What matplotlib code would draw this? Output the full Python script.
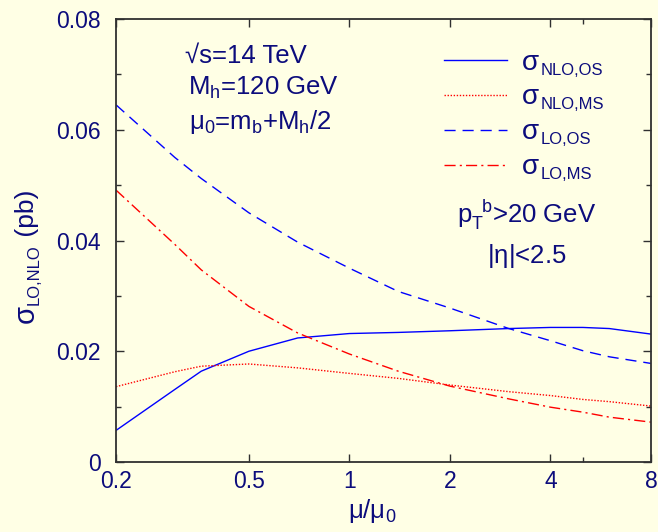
import matplotlib
matplotlib.use("Agg")
import matplotlib.pyplot as plt
from matplotlib.ticker import FixedLocator, NullFormatter

# scale variation mu/mu0
mu = [0.2, 0.3, 0.36, 0.5, 0.7, 1.0, 1.4, 2.0, 3.0, 4.0, 5.0, 6.0, 8.0]

# cross sections (pb)
nlo_os = [0.0057, 0.0131, 0.0164, 0.0200, 0.0224, 0.0232, 0.0234, 0.0237, 0.0241, 0.0243, 0.0243, 0.0241, 0.0231]
nlo_ms = [0.0136, 0.0163, 0.0173, 0.0177, 0.0170, 0.0160, 0.0151, 0.0139, 0.0127, 0.0120, 0.0113, 0.0109, 0.0101]
lo_os = [0.0645, 0.0550, 0.0512, 0.0450, 0.0397, 0.0350, 0.0308, 0.0278, 0.0241, 0.0219, 0.0201, 0.0190, 0.0178]
lo_ms = [0.0491, 0.0393, 0.0347, 0.0281, 0.0233, 0.0195, 0.0164, 0.0137, 0.0114, 0.0099, 0.0090, 0.0081, 0.0072]

series_sub = ["NLO,OS", "NLO,MS", "LO,OS", "LO,MS"]

xticks = [0.2, 0.5, 1, 2, 4, 8]
xticklabels = ["0.2", "0.5", "1", "2", "4", "8"]
yticks = [0, 0.02, 0.04, 0.06, 0.08]
yticklabels = ["0", "0.02", "0.04", "0.06", "0.08"]

bg = "#ffffe5"
navy = "#0c0c7c"
W, H = 658, 532

plt.rcParams["font.family"] = ["Liberation Sans", "DejaVu Sans"]
plt.rcParams["mathtext.default"] = "regular"

fig = plt.figure(figsize=(W / 100, H / 100), dpi=100, facecolor=bg)
ax = fig.add_axes([116 / W, 1 - 462 / H, 535 / W, 443 / H], facecolor=bg)
renderer = fig.canvas.get_renderer()


def px(x, y):
    # pixel position measured from the top left corner -> figure fraction
    return x / W, 1 - y / H


def chain(x, y, parts, rotation=0):
    # write text pieces of different sizes one after another along the baseline
    pos = 0
    for s, size, drop in parts:
        if rotation == 0:
            t = fig.text(*px(x + pos, y + drop), s, fontsize=size, color=navy,
                         ha="left", va="baseline")
            pos += t.get_window_extent(renderer).width
        else:
            t = fig.text(*px(x + drop, y - pos), s, fontsize=size, color=navy,
                         ha="left", va="baseline", rotation=90, rotation_mode="anchor")
            pos += t.get_window_extent(renderer).height


ax.plot(mu, nlo_os, color="#0000ff", lw=1.0, label="\u03c3")
ax.plot(mu, nlo_ms, color="#ff0000", lw=1.0, dashes=(1, 1.2), label="\u03c3")
ax.plot(mu, lo_os, color="#0000ff", lw=1.0, dashes=(8, 5), label="\u03c3")
ax.plot(mu, lo_ms, color="#ff0000", lw=1.0, dashes=(8, 3, 1.5, 3), label="\u03c3")

ax.set_xscale("log")
ax.set_xlim(0.2, 8)
ax.set_ylim(0, 0.08)

ax.xaxis.set_major_locator(FixedLocator(xticks))
ax.set_xticklabels(xticklabels)
ax.xaxis.set_minor_locator(FixedLocator([5]))
ax.xaxis.set_minor_formatter(NullFormatter())
ax.set_yticks(yticks)
ax.set_yticklabels(yticklabels)
ax.yaxis.set_minor_locator(FixedLocator([0.01, 0.03, 0.05, 0.07]))

ax.tick_params(which="both", direction="in", top=True, right=True, colors="#303030",
               labelcolor=navy, labelsize=16.5)
ax.tick_params(which="major", length=6, width=1)
ax.tick_params(which="minor", length=3.5, width=1)
ax.tick_params(axis="y", pad=11)
ax.tick_params(axis="x", pad=6)
for s in ax.spines.values():
    s.set_color("#303030")
    s.set_linewidth(1.3)

# legend: handles plus a big sigma, subscripts appended afterwards
leg = ax.legend(loc="upper left", bbox_to_anchor=(0.613, 0.931), frameon=False,
                fontsize=20, handlelength=2.27, handletextpad=0.54, labelspacing=0.32,
                borderpad=0, borderaxespad=0)
for t in leg.get_texts():
    t.set_color(navy)
fig.canvas.draw()
for t, sub in zip(leg.get_texts(), series_sub):
    bb = t.get_window_extent(renderer)
    fig.text((bb.x1 + 1) / W, (bb.y0 + 1) / H, sub, fontsize=12, color=navy,
             ha="left", va="baseline")

# axis titles
chain(34, 323, [("\u03c3", 21, 0), ("LO,NLO", 12, 5), (" (pb)", 19, 0)], rotation=90)
fig.text(*px(348, 518), r"$\mu/\mu_0$", fontsize=18.5, color=navy, ha="left", va="baseline")

# run parameters
fig.text(*px(185, 63), "\u221as=14 TeV", fontsize=18.5, color=navy, ha="left", va="baseline")
fig.text(*px(188, 95), r"M$_h$=120 GeV", fontsize=18.5, color=navy, ha="left", va="baseline")
fig.text(*px(189, 129), r"$\mu_0$=m$_b$+M$_h$/2", fontsize=18.5, color=navy, ha="left", va="baseline")

# cuts
fig.text(*px(527, 223), r"p$_T^{\;\;b}$>20 GeV", fontsize=18.5, color=navy, ha="center", va="baseline")
fig.text(*px(527, 263), r"|$\eta$|<2.5", fontsize=18.5, color=navy, ha="center", va="baseline")

fig.savefig("out.png", dpi=100, facecolor=bg)
